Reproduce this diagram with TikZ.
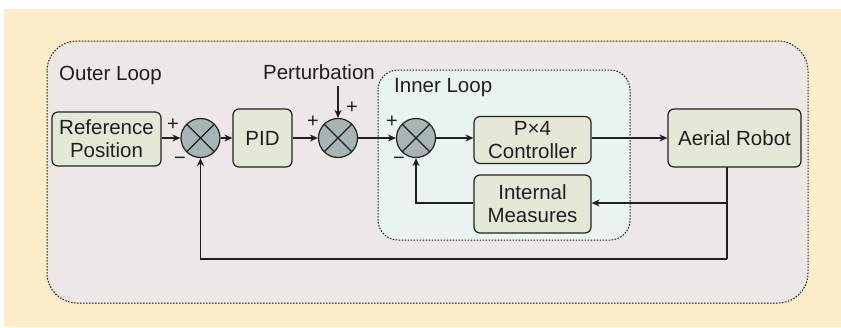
\documentclass[tikz,border=0pt]{standalone}
\usepackage{fontspec}
\setmainfont{Liberation Sans}
\usetikzlibrary{arrows.meta}
\definecolor{bgc}{RGB}{253,237,201}
\definecolor{outerc}{RGB}{237,232,232}
\definecolor{innerc}{RGB}{233,244,241}
\definecolor{boxc}{RGB}{228,232,214}
\definecolor{sumfill}{RGB}{168,181,181}
\definecolor{ink}{RGB}{35,31,32}
\tikzset{
  blk/.style={draw=ink, fill=boxc, line width=1.2pt, rounded corners=6pt, align=center, inner sep=0pt, font=\fontsize{20.5}{23}\selectfont, text=ink},
  sumc/.style={circle, draw=ink, fill=sumfill, line width=1.2pt, minimum size=39pt, inner sep=0pt,
    path picture={\draw[ink, line width=1.1pt] (path picture bounding box.north west) -- (path picture bounding box.south east)
      (path picture bounding box.north east) -- (path picture bounding box.south west);}},
  conn/.style={draw=ink, line width=1.2pt},
  arr/.style={conn, -{Stealth[length=8pt,width=7pt,inset=2.5pt]}},
  loopbox/.style={draw=ink, line width=1pt, dash pattern=on 1.6pt off 1.4pt},
  lbl/.style={font=\fontsize{20.5}{23}\selectfont, text=ink, inner sep=0pt},
  sgn/.style={font=\fontsize{20}{22}\selectfont, text=ink, inner sep=0pt}
}
\begin{document}
\begin{tikzpicture}[x=1pt,y=-1pt]
\useasboundingbox (0,0) rectangle (841,327);
\fill[white] (0,0) rectangle (841,327);
\fill[bgc] (4,9) rectangle (841,327);
\path[loopbox, fill=outerc, rounded corners=30pt] (47,41) rectangle (808,303);
\path[loopbox, fill=innerc, rounded corners=20pt] (378,70) rectangle (630,240);

\node[lbl, anchor=west] (outerlbl) at (59,75) {Outer Loop};
\node[lbl, anchor=west] (innerlbl) at (394,88) {Inner Loop};
\node[lbl] (pert) at (319,72) {Perturbation};

\node[blk, minimum width=109pt, minimum height=54pt] (ref) at (106.5,139) {Reference\\Position};
\node[sumc] (s1) at (200.5,138) {};
\node[blk, minimum width=59pt, minimum height=58pt] (pid) at (262.5,138) {PID};
\node[sumc] (s2) at (338,138) {};
\node[sumc] (s3) at (416,138) {};
\node[blk, minimum width=117pt, minimum height=47pt] (p4) at (532.5,140) {P×4\\Controller};
\node[blk, minimum width=133pt, minimum height=58pt] (robot) at (734.5,138) {Aerial Robot};
\node[blk, minimum width=117pt, minimum height=58pt] (meas) at (532.5,204) {Internal\\Measures};

\coordinate (pin) at (338,86);
\coordinate (rdown) at (727,167);
\coordinate (branch) at (727,203);
\coordinate (bottom) at (727,259);

\draw[arr] (ref.east |- s1) -- (s1.west);
\draw[arr] (s1.east) -- (pid.west |- s1);
\draw[arr] (pid.east |- s2) -- (s2.west);
\draw[arr] (pin) -- (s2.north);
\draw[arr] (s2.east) -- (s3.west);
\draw[arr] (s3.east) -- (s3.east -| p4.west);
\draw[arr] (s3.east -| p4.east) -- (s3.east -| robot.west);
\draw[conn] (rdown) -- (bottom);
\draw[arr] (bottom) -| (s1.south);
\draw[arr] (branch) -- (branch -| meas.east);
\draw[arr] (meas.west |- branch) -| (s3.south);

\node[sgn] (p1) at (173,125) {+};
\node[sgn] (m1) at (180,161) {−};
\node[sgn] (p2a) at (313,122) {+};
\node[sgn] (p2b) at (352,108) {+};
\node[sgn] (p3) at (392,122) {+};
\node[sgn] (m3) at (399,161) {−};
\end{tikzpicture}
\end{document}
